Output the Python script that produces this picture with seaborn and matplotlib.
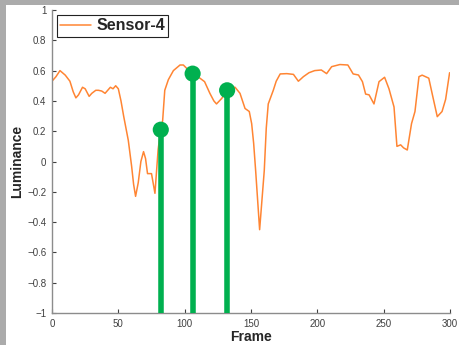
import numpy as np
import pandas as pd
import seaborn as sns
import matplotlib.pyplot as plt
from matplotlib.patches import Rectangle

# curve
frame = [0, 3, 6, 10, 13.5, 16, 18, 20, 23, 25, 28, 30, 33, 35, 37.5, 40, 42, 44, 46, 48,
         50, 52, 54, 57.5, 60, 61.5, 63, 65, 67, 69, 70.5, 72, 75, 77.6, 80, 81.5, 83.4, 85,
         87.7, 91.5, 96.5, 99, 101.5, 106, 111.5, 115, 119, 122, 124, 128, 131.7, 135, 138,
         141.7, 145.5, 148.7, 150.5, 152, 153.5, 156.5, 160, 161.5, 163, 166.8, 169, 172,
         177, 182, 185.7, 187, 189.5, 193.7, 198, 203, 207, 210.8, 217, 223, 227, 231, 234,
         236.4, 239, 242.7, 246.5, 250.7, 254, 257.8, 260, 262.8, 265, 267.8, 271, 273.6,
         276.6, 279, 284, 287, 290.4, 294, 296.7, 299.7]
luminance = [0.53, 0.56, 0.60, 0.57, 0.53, 0.46, 0.42, 0.44, 0.49, 0.48, 0.43, 0.45, 0.47,
             0.47, 0.465, 0.45, 0.47, 0.49, 0.48, 0.50, 0.48, 0.40, 0.30, 0.14, -0.03, -0.15,
             -0.23, -0.14, 0.0, 0.065, 0.02, -0.08, -0.08, -0.21, 0.08, 0.18, 0.27, 0.47,
             0.54, 0.60, 0.637, 0.637, 0.615, 0.578, 0.55, 0.527, 0.45, 0.40, 0.38, 0.417,
             0.47, 0.49, 0.49, 0.45, 0.35, 0.33, 0.25, 0.12, -0.06, -0.45, -0.06, 0.22, 0.38,
             0.47, 0.53, 0.578, 0.58, 0.575, 0.53, 0.54, 0.56, 0.586, 0.60, 0.604, 0.58,
             0.626, 0.64, 0.637, 0.578, 0.571, 0.527, 0.445, 0.44, 0.38, 0.527, 0.556, 0.48,
             0.36, 0.10, 0.11, 0.09, 0.076, 0.25, 0.33, 0.56, 0.57, 0.55, 0.43, 0.296, 0.33,
             0.41, 0.586]

# stem markers
stem_frame = [82, 106, 132]
stem_value = [0.21, 0.58, 0.47]

yticks = [-1, -0.8, -0.6, -0.4, -0.2, 0, 0.2, 0.4, 0.6, 0.8, 1]
ytick_labels = ['\u22121', '\u22120.8', '\u22120.6', '\u22120.4', '\u22120.2', '0',
                '0.2', '0.4', '0.6', '0.8', '1']
xticks = [0, 50, 100, 150, 200, 250, 300]

df = pd.DataFrame({'Frame': frame, 'Luminance': luminance})

sns.set_style('ticks')
plt.rcParams['font.family'] = ['Liberation Sans', 'DejaVu Sans']

fig = plt.figure(figsize=(4.59, 3.45), dpi=100, facecolor='white')
# grey window edge on the top and left
fig.patches.append(Rectangle((0, 0), 6 / 459, 1, transform=fig.transFigure,
                             facecolor='#ababab', edgecolor='none', zorder=-10))
fig.patches.append(Rectangle((0, 1 - 5 / 345), 1, 5 / 345, transform=fig.transFigure,
                             facecolor='#ababab', edgecolor='none', zorder=-10))
ax = fig.add_axes([52 / 459, 1 - 313 / 345, 398 / 459, 303 / 345])
ax.set_facecolor('white')

sns.lineplot(data=df, x='Frame', y='Luminance', ax=ax, color='#ff8533', lw=1.1,
             label='Sensor-4', zorder=2)
ax.vlines(stem_frame, -1, stem_value, color='#00b04f', lw=4.0, zorder=3)
sns.scatterplot(x=stem_frame, y=stem_value, ax=ax, color='#00b04f', s=135,
                edgecolor='none', zorder=4)

ax.set_xlim(0, 300)
ax.set_ylim(-1, 1)
ax.set_xticks(xticks)
ax.set_yticks(yticks)
ax.set_yticklabels(ytick_labels)
ax.tick_params(direction='in', length=3, width=0.8, labelsize=7, colors='#404040',
               pad=4)
for s in ['top', 'right']:
    ax.spines[s].set_visible(False)
for s in ['left', 'bottom']:
    ax.spines[s].set_color('#8c8c8c')
    ax.spines[s].set_linewidth(1.0)

ax.set_xlabel('Frame', fontsize=10, fontweight='bold', labelpad=1)
ax.set_ylabel('Luminance', fontsize=10, fontweight='bold', labelpad=2)

leg = ax.legend(loc='upper left', bbox_to_anchor=(0.0126, 0.983), borderaxespad=0,
                fancybox=False, framealpha=1, edgecolor='#222222', borderpad=0.2,
                handlelength=1.9, handletextpad=0.35,
                prop={'weight': 'bold', 'size': 11.5})
leg.get_frame().set_linewidth(0.8)

plt.savefig('out.png', dpi=100)
